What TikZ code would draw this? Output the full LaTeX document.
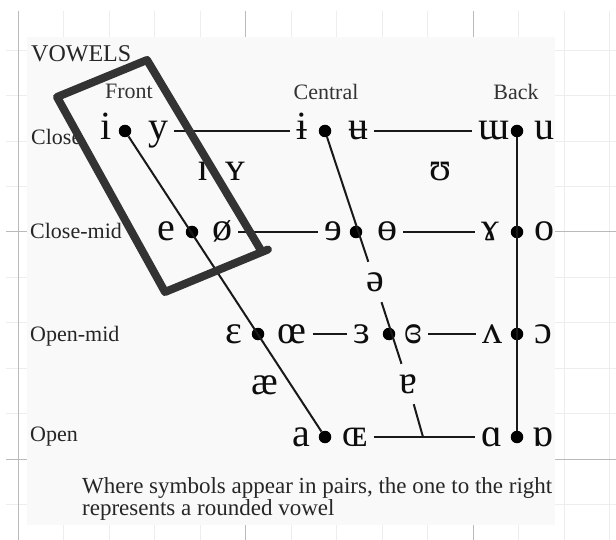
\documentclass[tikz,border=0pt]{standalone}
\usepackage{fontspec}
\setmainfont{Liberation Serif}
\begin{document}
\begin{tikzpicture}[x=1pt,y=-1pt,
  minorline/.style={draw=black!7, line width=0.8pt},
  majorline/.style={draw=black!27, line width=1pt},
  panel/.style={fill=black!2.5, draw=none},
  vw/.style={font=\fontsize{40}{40}\selectfont, text=black!95, inner xsep=6pt, inner ysep=0pt, text height=29pt, text depth=11pt},
  dotn/.style={circle, fill=black, inner sep=0pt, minimum size=12.5pt},
  lbl/.style={font=\fontsize{22}{22}\selectfont, text=black!85, inner sep=0pt, anchor=base west},
  hdr/.style={font=\fontsize{22}{22}\selectfont, text=black!80, inner sep=0pt, anchor=base},
  link/.style={draw=black!90, line width=2pt},
  handbox/.style={draw=black!80, line width=8pt, line join=round, line cap=round}
]
\useasboundingbox (0,0) rectangle (616,540);
\fill[white] (0,0) rectangle (616,540);
% background grid
\foreach \x in {63.5,109,154.5,200,291,336.5,382,427.5,518.5,564,609.5}
  \draw[minorline] (\x,11) -- (\x,540);
\foreach \y in {50.4,95.8,141.2,186.6,277.4,322.8,368.2,413.6,504.4}
  \draw[minorline] (6,\y) -- (616,\y);
\foreach \x in {18,245.5,473}
  \draw[majorline] (\x,11) -- (\x,540);
\foreach \y in {232,459}
  \draw[majorline] (6,\y) -- (616,\y);
% panel
\fill[panel] (27,37) rectangle (555,525);

% titles and labels
\node[lbl, font=\fontsize{24}{24}\selectfont] (title) at (31,62) {VOWELS};
\node[hdr] (hfront) at (129,99) {Front};
\node[hdr] (hcentral) at (326,100) {Central};
\node[hdr] (hback) at (516,100) {Back};
\node[lbl] (rclose) at (31,145) {Close};
\node[lbl] (rclosemid) at (30,239) {Close-mid};
\node[lbl] (ropenmid) at (30,341) {Open-mid};
\node[lbl] (ropen) at (30,441) {Open};

% close row
\node[vw] (vi) at (106,131) {i};
\node[dotn] (d11) at (125,131) {};
\node[vw] (vy) at (158,131) {y};
\node[vw] (vibar) at (302,131) {ɨ};
\node[dotn] (d12) at (325,131) {};
\node[vw] (vubar) at (358,131) {ʉ};
\node[vw] (vturnm) at (494,131) {ɯ};
\node[dotn] (d13) at (517,131) {};
\node[vw] (vu) at (544,131) {u};
% near-close
\node[vw] (vsmi) at (203,172) {ɪ};
\node[vw] (vsmy) at (235,172) {ʏ};
\node[vw] (vups) at (440,172) {ʊ};
% close-mid row
\node[vw] (ve) at (166,232) {e};
\node[dotn] (d21) at (192,232) {};
\node[vw] (voslash) at (222,232) {ø};
\node[vw] (vreve) at (333,232) {ɘ};
\node[dotn] (d22) at (356,232) {};
\node[vw] (vbaro) at (387,232) {ɵ};
\node[vw] (vrams) at (490,232) {ɤ};
\node[dotn] (d23) at (517,232) {};
\node[vw] (vo) at (544,232) {o};
% mid
\node[vw] (vschwa) at (375,282) {ə};
% open-mid row
\node[vw] (veps) at (234,334) {ɛ};
\node[dotn] (d31) at (258,334) {};
\node[vw] (voe) at (292,334) {œ};
\node[vw] (vreveps) at (362,334) {ɜ};
\node[dotn] (d32) at (389,334) {};
\node[vw] (vclreveps) at (413,334) {ɞ};
\node[vw] (vwedge) at (492,334) {ʌ};
\node[dotn] (d33) at (517,334) {};
\node[vw] (vopeno) at (543,334) {ɔ};
% near-open
\node[vw] (vae) at (265,385) {æ};
\node[vw] (vturna) at (408,384) {ɐ};
% open row
\node[vw] (va) at (301,437) {a};
\node[dotn] (d41) at (325,437) {};
\node[vw] (vOE) at (355,437) {ɶ};
\node[vw] (vscript) at (492,437) {ɑ};
\node[dotn] (d43) at (517,437) {};
\node[vw] (vturnscript) at (543,437) {ɒ};
\coordinate (tj) at (423,437);

% connectors
\draw[link] (d11) -- (d41);
\draw[link] (d12) -- (vschwa);
\draw[link] (vschwa) -- (vturna);
\draw[link] (vturna) -- (tj);
\draw[link] (d13) -- (d43);
\draw[link] (vy) -- (vibar);
\draw[link] (vubar) -- (vturnm);
\draw[link] (voslash) -- (vreve);
\draw[link] (vbaro) -- (vrams);
\draw[link] (voe) -- (vreveps);
\draw[link] (vclreveps) -- (vwedge);
\draw[link] (vOE) -- (vscript);

% footnote
\node[font=\fontsize{23}{19}\selectfont, text=black!85, inner sep=0pt, anchor=base west, align=left] (foot) at (82,515)
  {Where symbols appear in pairs, the one to the right\\represents a rounded vowel};

% hand-drawn box
\draw[handbox] (268,249.5) -- (165,292) -- (57,97) -- (147,60) -- (262,252);
\end{tikzpicture}
\end{document}
